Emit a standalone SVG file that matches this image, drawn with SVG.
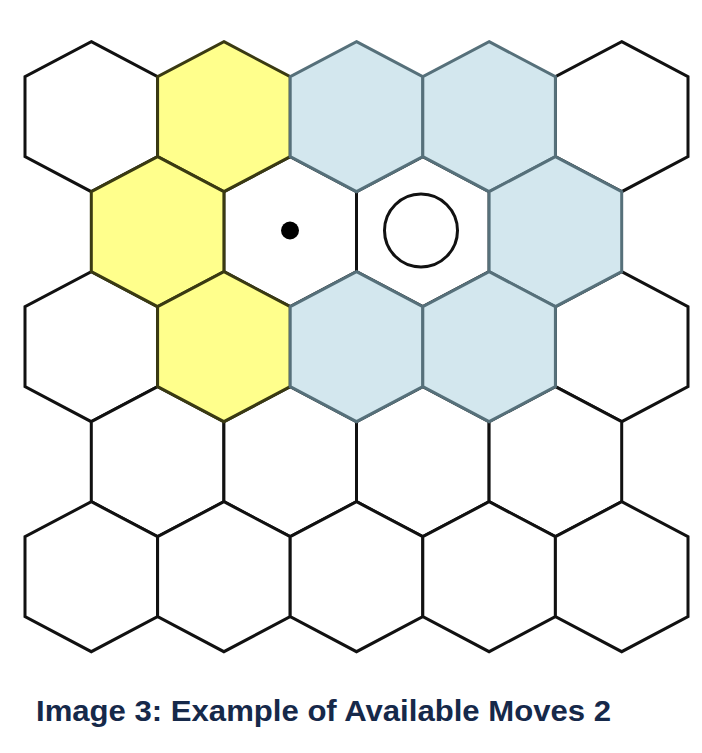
<svg xmlns="http://www.w3.org/2000/svg" xmlns:xlink="http://www.w3.org/1999/xlink" width="702" height="753" viewBox="0 0 702 753">
  <style>
    .w { fill: #ffffff; stroke: #111111; stroke-width: 3; }
    .y { fill: #ffff8c; stroke: #3a3a12; stroke-width: 3; }
    .b { fill: #d3e7ee; stroke: #56707a; stroke-width: 3; }
    .cap { font-family: "Liberation Sans", Arial, sans-serif; font-weight: bold; font-size: 30px; fill: #16294a; }
  </style>
  <defs>
    <polygon id="hex" points="0,-75 66.3,-40 66.3,40 0,75 -66.3,40 -66.3,-40"/>
  </defs>
  <rect width="702" height="753" fill="#ffffff"/>
  <!-- white hexes -->
  <g id="hex-r1c1"><use href="#hex" class="w" x="91.3" y="116.7"/></g>
  <g id="hex-r1c5"><use href="#hex" class="w" x="621.7" y="116.7"/></g>
  <g id="hex-r2c2"><use href="#hex" class="w" x="290.2" y="231.7"/><circle cx="290" cy="230.5" r="9" fill="#000000"/></g>
  <g id="hex-r2c3"><use href="#hex" class="w" x="422.8" y="231.7"/><circle cx="421" cy="230.5" r="36.5" fill="none" stroke="#111111" stroke-width="3"/></g>
  <g id="hex-r3c1"><use href="#hex" class="w" x="91.3" y="346.7"/></g>
  <g id="hex-r3c5"><use href="#hex" class="w" x="621.7" y="346.7"/></g>
  <g id="hex-r4c1"><use href="#hex" class="w" x="157.6" y="461.7"/></g>
  <g id="hex-r4c2"><use href="#hex" class="w" x="290.2" y="461.7"/></g>
  <g id="hex-r4c3"><use href="#hex" class="w" x="422.8" y="461.7"/></g>
  <g id="hex-r4c4"><use href="#hex" class="w" x="555.4" y="461.7"/></g>
  <g id="hex-r5c1"><use href="#hex" class="w" x="91.3" y="576.7"/></g>
  <g id="hex-r5c2"><use href="#hex" class="w" x="223.9" y="576.7"/></g>
  <g id="hex-r5c3"><use href="#hex" class="w" x="356.5" y="576.7"/></g>
  <g id="hex-r5c4"><use href="#hex" class="w" x="489.1" y="576.7"/></g>
  <g id="hex-r5c5"><use href="#hex" class="w" x="621.7" y="576.7"/></g>
  <!-- yellow hexes -->
  <g id="hex-r1c2"><use href="#hex" class="y" x="223.9" y="116.7"/></g>
  <g id="hex-r2c1"><use href="#hex" class="y" x="157.6" y="231.7"/></g>
  <g id="hex-r3c2"><use href="#hex" class="y" x="223.9" y="346.7"/></g>
  <!-- blue hexes -->
  <g id="hex-r1c3"><use href="#hex" class="b" x="356.5" y="116.7"/></g>
  <g id="hex-r1c4"><use href="#hex" class="b" x="489.1" y="116.7"/></g>
  <g id="hex-r2c4"><use href="#hex" class="b" x="555.4" y="231.7"/></g>
  <g id="hex-r3c3"><use href="#hex" class="b" x="356.5" y="346.7"/></g>
  <g id="hex-r3c4"><use href="#hex" class="b" x="489.1" y="346.7"/></g>
  <g id="connectors"></g>
  <text class="cap" x="36" y="721" textLength="575" lengthAdjust="spacingAndGlyphs">Image 3: Example of Available Moves 2</text>
</svg>
